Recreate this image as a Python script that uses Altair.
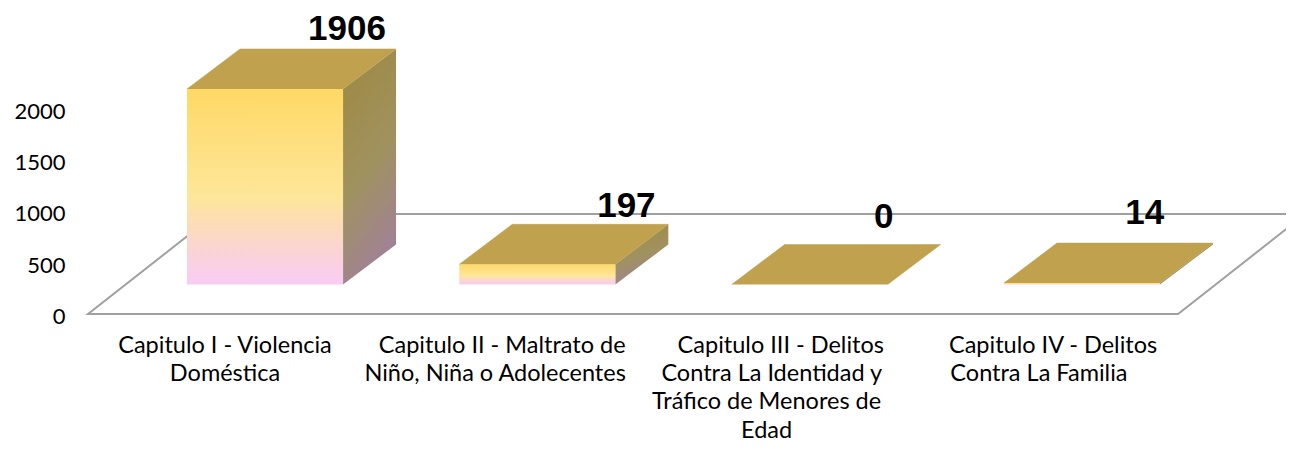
import altair as alt
import pandas as pd

categories = [
    ["Capitulo I - Violencia", "Doméstica"],
    ["Capitulo II - Maltrato de", "Niño, Niña o Adolecentes"],
    ["Capitulo III - Delitos", "Contra La Identidad y", "Tráfico de Menores de", "Edad"],
    ["Capitulo IV - Delitos", "Contra La Familia"],
]
values = [1906, 197, 0, 14]
axis_ticks = [0, 500, 1000, 1500, 2000]

# layout of the pseudo-3D projection, in scale units
PX = 0.1026           # pixels per value unit
HEIGHT = 434
WIDTH = 1206
STEP = 272.3
HALF = 0.2865
DX = 0.1946
DY = 40 / PX
BASE = 29.5 / PX
X_DOMAIN = [-0.6795, -0.6795 + WIDTH / STEP]
Y_DOMAIN = [-(HEIGHT - 306) / PX, 306 / PX]
FLOOR_DX = 0.468
FLOOR_DY = 100 / PX
FLOOR_L = -0.65
FLOOR_R = 3.353
value_nudge = [(0.301, 19.5 / PX), (0.327, 18.5 / PX), (0.272, 28 / PX), (0.231, 30.5 / PX)]
line_nudge = [
    [-0.147, -0.147],
    [-0.129, -0.155],
    [-0.106, -0.139, -0.158, -0.158],
    [-0.106, -0.158],
]
LINE_Y0 = (314 - 346) / PX
LINE_STEP = -28.2 / PX

x_scale = alt.Scale(domain=X_DOMAIN, nice=False, zero=False)
y_scale = alt.Scale(domain=Y_DOMAIN, nice=False, zero=False)
y_axis = alt.Axis(
    values=axis_ticks, format="d", domain=False, ticks=False, grid=False, title=None,
    labelFont="Lato", labelFontSize=22, labelColor="#000000", labelPadding=15, labelOffset=2.5,
)
X = lambda f: alt.X(f, type="quantitative", scale=x_scale, axis=None)
Y = lambda f: alt.Y(f, type="quantitative", scale=y_scale, axis=y_axis)

front, sides, tops, texts, lines = [], [], [], [], []
for i, v in enumerate(values):
    xl, xr = i - HALF, i + HALF
    front.append(dict(x=xl, x2=xr, y=BASE, y2=BASE + v))
    for s, (px, py) in enumerate([(xr, BASE + v), (xr + DX, BASE + v + DY), (xr + DX, BASE + DY), (xr, BASE)]):
        sides.append(dict(id=i, seq=s, x=px, y=py))
    for s, (px, py) in enumerate([(xl, BASE + v), (xl + DX, BASE + v + DY), (xr + DX, BASE + v + DY), (xr, BASE + v)]):
        tops.append(dict(id=i, seq=s, x=px, y=py))
    nx, ny = value_nudge[i]
    texts.append(dict(x=i + nx, y=BASE + v + DY + ny, label=str(v)))
    for j, t in enumerate(categories[i]):
        lines.append(dict(x=i + line_nudge[i][j], y=LINE_Y0 + j * LINE_STEP, label=t))

floor = [
    (X_DOMAIN[1] + 1, FLOOR_DY),
    (FLOOR_L + FLOOR_DX, FLOOR_DY),
    (FLOOR_L, 0),
    (FLOOR_R, 0),
    (FLOOR_R + FLOOR_DX, FLOOR_DY),
]
floor_df = pd.DataFrame([dict(seq=i, x=p[0], y=p[1]) for i, p in enumerate(floor)])
tick_df = pd.DataFrame({"tick": axis_ticks})

front_grad = alt.LinearGradient(
    gradient="linear", x1=0, x2=0, y1=0, y2=1,
    stops=[
        alt.GradientStop(color="#FFD966", offset=0),
        alt.GradientStop(color="#FEE699", offset=0.55),
        alt.GradientStop(color="#FBD5D0", offset=0.8),
        alt.GradientStop(color="#F8CCF5", offset=1),
    ],
)
side_grad = alt.LinearGradient(
    gradient="linear", x1=0.35, x2=0.65, y1=0, y2=1,
    stops=[
        alt.GradientStop(color="#9F8A45", offset=0),
        alt.GradientStop(color="#A0925F", offset=0.5),
        alt.GradientStop(color="#A07F9F", offset=1),
    ],
)

axis_layer = alt.Chart(tick_df).mark_point(opacity=0).encode(y=Y("tick"))
floor_layer = alt.Chart(floor_df).mark_line(color="#A0A0A0", strokeWidth=2, clip=True).encode(
    x=X("x"), y=Y("y"), order="seq:O"
)
front_layer = alt.Chart(pd.DataFrame(front)).mark_rect(color=front_grad).encode(
    x=X("x"), x2="x2", y=Y("y"), y2="y2"
)
side_layer = alt.Chart(pd.DataFrame(sides)).mark_line(fill=side_grad, stroke="transparent", strokeWidth=0).encode(
    x=X("x"), y=Y("y"), order="seq:O", detail="id:N"
)
top_layer = alt.Chart(pd.DataFrame(tops)).mark_line(fill="#BFA14E", stroke="#BFA14E", strokeWidth=0.5).encode(
    x=X("x"), y=Y("y"), order="seq:O", detail="id:N"
)
value_layer = alt.Chart(pd.DataFrame(texts)).mark_text(
    font="Liberation Sans", fontWeight="bold", fontSize=35, color="#000000", align="center", baseline="middle"
).encode(x=X("x"), y=Y("y"), text="label:N")
cat_layer = alt.Chart(pd.DataFrame(lines)).mark_text(
    font="Lato", fontSize=23.5, color="#000000", align="center", baseline="middle"
).encode(x=X("x"), y=Y("y"), text="label:N")

chart = alt.layer(
    axis_layer, floor_layer, side_layer, front_layer, top_layer, value_layer, cat_layer
).properties(
    width=WIDTH, height=HEIGHT,
    autosize=alt.AutoSizeParams(type="none"),
    padding={"left": 72, "top": 0, "right": 0, "bottom": 0},
    background="white",
).configure_view(stroke=None)

chart.save("out.html", embed_options={"renderer": "svg", "actions": False})
